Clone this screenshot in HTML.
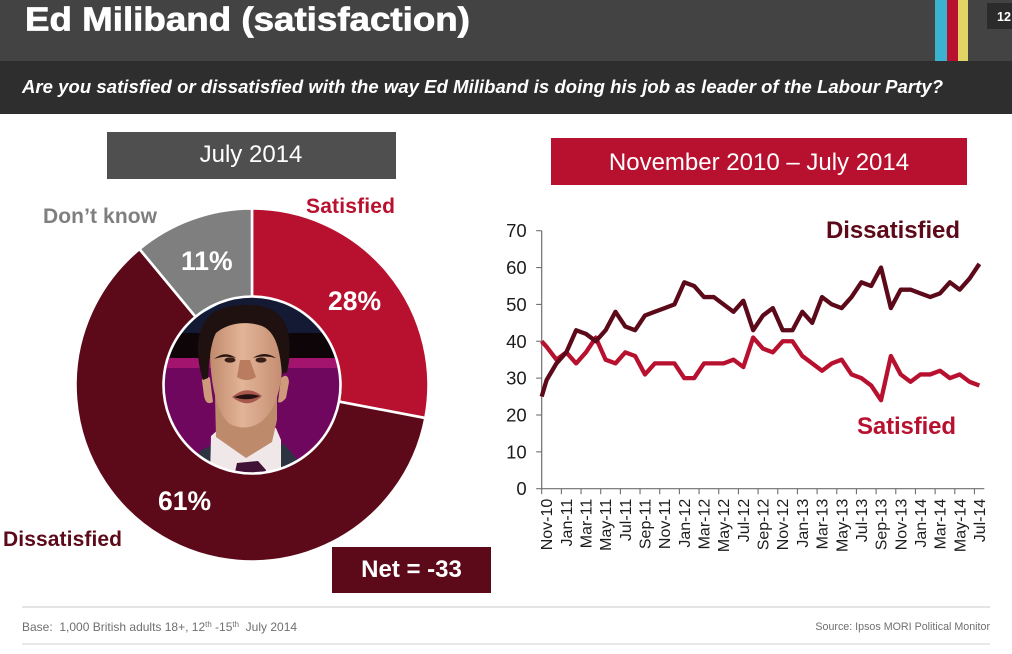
<!DOCTYPE html>
<html>
<head>
<meta charset="utf-8">
<style>
html,body{margin:0;padding:0;background:#fff;width:1012px;height:654px;overflow:hidden}
svg{display:block}
text{font-family:"Liberation Sans",sans-serif;white-space:pre}
</style>
</head>
<body>
<svg id="slide" width="1012" height="654" viewBox="0 0 1012 654" xmlns="http://www.w3.org/2000/svg">
  <defs>
    <clipPath id="photoClip"><circle cx="252" cy="385" r="88"/></clipPath>
    <linearGradient id="skin" x1="0" y1="0" x2="1" y2="0">
      <stop offset="0" stop-color="#c08a6c"/><stop offset="0.45" stop-color="#e3b498"/><stop offset="1" stop-color="#c48e72"/>
    </linearGradient>
  </defs>

  <rect x="0" y="0" width="1012" height="61" fill="#434343"/>
  <rect x="0" y="61" width="1012" height="53" fill="#2e2e2e"/>
  <rect x="935" y="0" width="12" height="61" fill="#3bb3d0"/>
  <rect x="947" y="0" width="11" height="61" fill="#b8112f"/>
  <rect x="958" y="0" width="10" height="61" fill="#e0d564"/>
  <rect x="987" y="3" width="25" height="26" fill="#2b2b2b"/>
  <text x="997" y="21" font-size="12.5" font-weight="700" fill="#fff">12</text>
  <text x="25" y="30.5" font-size="33" font-weight="700" fill="#fff" stroke="#fff" stroke-width="0.7" textLength="445" lengthAdjust="spacingAndGlyphs">Ed Miliband (satisfaction)</text>
  <text x="22" y="93" font-size="18.5" font-weight="700" font-style="italic" fill="#fff" textLength="921" lengthAdjust="spacing">Are you satisfied or dissatisfied with the way Ed Miliband is doing his job as leader of the Labour Party?</text>

  <rect x="107" y="132" width="289" height="47" fill="#4f4f4f"/>
  <text x="251" y="162" font-size="24" fill="#fff" text-anchor="middle">July 2014</text>
  <rect x="551" y="138" width="416" height="47" fill="#b8112f"/>
  <text x="759" y="170" font-size="24" fill="#fff" text-anchor="middle">November 2010 – July 2014</text>

  <g id="donut"></g>

  <g id="photo" clip-path="url(#photoClip)">
    <rect x="160" y="295" width="184" height="180" fill="#70075f"/>
    <rect x="160" y="295" width="184" height="40" fill="#141a33"/>
    <rect x="160" y="333" width="184" height="26" fill="#0d0508"/>
    <polygon points="180,333 190,320 232,297 160,297 160,333" fill="#6fb2e2"/>
    <rect x="160" y="358" width="184" height="10" fill="#a2146e"/>
    <path d="M190 480 L200 451 L214 444 L284 444 L296 458 L300 480 Z" fill="#2c3442"/>
    <path d="M210 480 L211 436 L220 428 L276 428 L281 440 L281 480 Z" fill="#f0e8e8"/>
    <path d="M235 472 L237 463 L258 461 L266 470 L262 480 L238 480 Z" fill="#3f1236"/>
    <path d="M215 395 L216 437 L246 458 L272 442 L277 420 L277 395 Z" fill="#bd8a6c"/>
    <path d="M202 380 Q204 374 210 378 L213 402 Q206 406 204 396 Z" fill="#cf9a7c"/>
    <path d="M281 378 Q288 372 289 382 L286 398 Q281 404 278 402 Z" fill="#cf9a7c"/>
    <path d="M210 350 C210 320 230 318 246 318 C266 318 283 325 282 355 C283 385 276 410 262 421 C252 429 240 429 230 424 C216 414 210 380 210 350 Z" fill="url(#skin)"/>
    <path d="M203 380 C194 352 196 322 216 311 C236 302 268 302 280 316 C292 328 291 356 287 372 L282 374 C280 350 276 332 262 326 C245 320 226 324 216 333 C210 344 209 365 208 378 Z" fill="#1e110f"/>
    <path d="M214 359 Q225 350 236 358 Q225 355 214 359 Z M253 358 Q264 350 276 358 Q264 355 253 358 Z" fill="#2a1512"/>
    <ellipse cx="230" cy="360" rx="5.5" ry="2.6" fill="#3a1f18"/>
    <ellipse cx="261" cy="360" rx="5.5" ry="2.6" fill="#3a1f18"/>
    <path d="M240 360 L237 377 Q246 383 256 377 L250 360 Z" fill="#b97c5e"/>
    <path d="M232 397 Q247 384 262 396 Q248 410 232 397 Z" fill="#a8584c"/>
    <path d="M234 397 Q247 392 260 396 Q248 402 234 397 Z" fill="#241010"/>
  </g>
  <circle cx="252" cy="385" r="88.5" fill="none" stroke="#fff" stroke-width="2.6"/>

  <text x="306" y="213" font-size="21" font-weight="700" fill="#b8112f" textLength="89" lengthAdjust="spacing">Satisfied</text>
  <text x="43" y="223" font-size="21" font-weight="700" fill="#7f7f7f" textLength="114" lengthAdjust="spacing">Don’t know</text>
  <text x="3" y="546" font-size="21" font-weight="700" fill="#5c0a1a" textLength="119" lengthAdjust="spacing">Dissatisfied</text>
  <text x="328" y="310" font-size="26.5" font-weight="700" fill="#fff">28%</text>
  <text x="181" y="270" font-size="26.5" font-weight="700" fill="#fff">11%</text>
  <text x="158" y="510" font-size="26.5" font-weight="700" fill="#fff">61%</text>
  <rect x="332" y="547" width="159" height="46" fill="#5c0a1a"/>
  <text x="411.5" y="577" font-size="24" font-weight="700" fill="#fff" text-anchor="middle">Net = -33</text>

  <g id="lineChart"></g>
  <text x="826" y="238" font-size="24" font-weight="700" fill="#5c0a1a" textLength="134" lengthAdjust="spacing">Dissatisfied</text>
  <text x="857" y="434" font-size="24" font-weight="700" fill="#b8112f" textLength="99" lengthAdjust="spacing">Satisfied</text>

  <line x1="22" y1="607" x2="990" y2="607" stroke="#d4d4d4" stroke-width="1.2"/>
  <line x1="22" y1="644" x2="990" y2="644" stroke="#dcdcdc" stroke-width="1.2"/>
  <text x="22" y="631" font-size="12" fill="#6f6f6f">Base:  1,000 British adults 18+, 12<tspan font-size="7.9" dy="-4">th</tspan><tspan dy="4"> -15</tspan><tspan font-size="7.9" dy="-4">th</tspan><tspan dy="4">  July 2014</tspan></text>
  <text x="990" y="630" font-size="10.7" fill="#6f6f6f" text-anchor="end">Source: Ipsos MORI Political Monitor</text>
</svg>

<script>
var donutLabels = ['satisfied', 'dissatisfied', 'dont-know'];
var donutValues = [28, 61, 11];
var donutColors = ['#b8112f', '#5c0a1a', '#7f7f7f'];

var monthLabels = ['Nov-10','Jan-11','Mar-11','May-11','Jul-11','Sep-11','Nov-11','Jan-12','Mar-12','May-12','Jul-12','Sep-12','Nov-12','Jan-13','Mar-13','May-13','Jul-13','Sep-13','Nov-13','Jan-14','Mar-14','May-14','Jul-14'];
var yTicks = [0, 10, 20, 30, 40, 50, 60, 70];
var satisfiedStart = 40;
var dissatisfiedStart = 25;
var satisfiedValues = [38.5,35,37,34,37,41,35,34,37,36,31,34,34,34,30,30,34,34,34,35,33,41,38,37,40,40,36,34,32,34,35,31,30,28,24,36,31,29,31,31,32,30,31,29,28];
var dissatisfiedValues = [29.5,34,37,43,42,40,43,48,44,43,47,48,49,50,56,55,52,52,50,48,51,43,47,49,43,43,48,45,52,50,49,52,56,55,60,49,54,54,53,52,53,56,54,57,61];

var NS = 'http://www.w3.org/2000/svg';
function make(tag, attrs, parent) {
  var el = document.createElementNS(NS, tag);
  for (var k in attrs) el.setAttribute(k, attrs[k]);
  parent.appendChild(el);
  return el;
}

/* donut */
var donut = document.getElementById('donut');
var cx = 252, cy = 385, outerR = 176.5;
var total = donutValues.reduce(function (a, b) { return a + b; }, 0);
function polar(angle) {
  return [cx + outerR * Math.sin(angle), cy - outerR * Math.cos(angle)];
}
var running = 0;
donutValues.forEach(function (v, i) {
  var a0 = running / total * Math.PI * 2;
  running += v;
  var a1 = running / total * Math.PI * 2;
  var p0 = polar(a0), p1 = polar(a1);
  var large = (a1 - a0) > Math.PI ? 1 : 0;
  var d = 'M' + cx + ' ' + cy + ' L' + p0[0] + ' ' + p0[1] + ' A' + outerR + ' ' + outerR + ' 0 ' + large + ' 1 ' + p1[0] + ' ' + p1[1] + ' Z';
  var slice = make('path', { d: d, fill: donutColors[i], stroke: '#fff', 'stroke-width': 2.6, 'stroke-linejoin': 'miter' }, donut);
  
  
});

/* line chart */
var chart = document.getElementById('lineChart');
var axisLeft = 541.7, axisRight = 984.3, axisBottom = 488.7, axisTop = 230.7;
var yMax = 70;
var monthCount = satisfiedValues.length;
var step = (axisRight - axisLeft) / monthCount;
function xAt(i) { return axisLeft + (i + 0.5) * step; }
function xTick(i) { return axisLeft + i * 2 * step; }
function yAt(v) { return axisBottom - v / yMax * (axisBottom - axisTop); }

yTicks.forEach(function (t) {
  var tick = make('line', { x1: axisLeft - 5.5, x2: axisLeft, y1: yAt(t), y2: yAt(t), stroke: '#6e6e6e', 'stroke-width': 1.1 }, chart);
  
  
  var label = make('text', { x: axisLeft - 15, y: yAt(t) + 6.5, 'font-size': 18.5, fill: '#1c1c1c', 'text-anchor': 'end' }, chart);
  
  
  label.textContent = t;
});
monthLabels.forEach(function (m, i) {
  var x = xTick(i);
  var tick = make('line', { x1: x, x2: x, y1: axisBottom, y2: axisBottom + 5.5, stroke: '#6e6e6e', 'stroke-width': 1.1 }, chart);
  
  
  var labelY = axisBottom + 10;
  var labelX = x + 10.5;
  var label = make('text', { x: labelX, y: labelY, 'font-size': 16, fill: '#1c1c1c', 'text-anchor': 'end', transform: 'rotate(-90 ' + labelX + ' ' + labelY + ')' }, chart);
  
  
  label.textContent = m;
});
var yAxis = make('line', { x1: axisLeft, x2: axisLeft, y1: axisTop, y2: axisBottom, stroke: '#6e6e6e', 'stroke-width': 1.2 }, chart);


var xAxis = make('line', { x1: axisLeft, x2: axisRight, y1: axisBottom, y2: axisBottom, stroke: '#6e6e6e', 'stroke-width': 1.2 }, chart);



function seriesPoints(start, values) {
  var pts = [axisLeft + ',' + yAt(start)];
  values.forEach(function (v, i) { pts.push(xAt(i) + ',' + yAt(v)); });
  return pts.join(' ');
}
var satLine = make('polyline', { points: seriesPoints(satisfiedStart, satisfiedValues), fill: 'none', stroke: '#b8112f', 'stroke-width': 4.3, 'stroke-linejoin': 'round' }, chart);


var disLine = make('polyline', { points: seriesPoints(dissatisfiedStart, dissatisfiedValues), fill: 'none', stroke: '#5c0a1a', 'stroke-width': 4.3, 'stroke-linejoin': 'round' }, chart);


</script>
</body>
</html>
